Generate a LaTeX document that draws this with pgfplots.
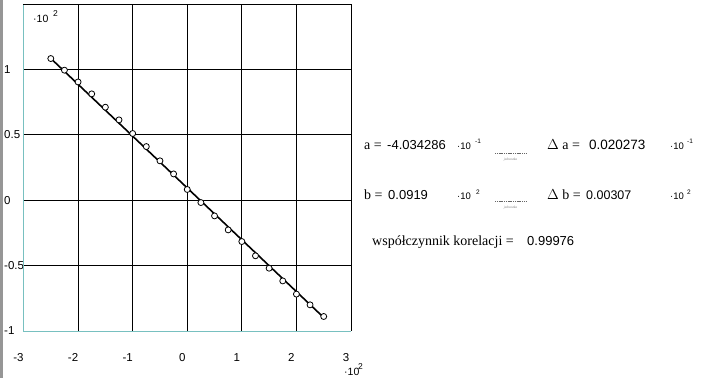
\documentclass[border=0pt]{standalone}
\usepackage{pgfplots}
\pgfplotsset{compat=1.18}
\usepackage{fontspec}
\setmainfont{Liberation Serif}
\newfontfamily\arial{Liberation Sans}
\definecolor{frameteal}{RGB}{120,192,192}
\definecolor{sidebar}{RGB}{150,150,150}
\begin{document}
\begin{tikzpicture}[x=1pt,y=1pt]
\path[use as bounding box] (0,0) rectangle (706,378);
\fill[white] (0,0) rectangle (706,378);
\fill[sidebar] (0,0) rectangle (3,378);
\begin{axis}[
  at={(23.5pt,47pt)}, anchor=south west,
  scale only axis, width=327.5pt, height=327pt,
  xmin=-3, xmax=3, ymin=-1, ymax=1.5,
  xtick={-2,-1,0,1,2}, extra x ticks={-3,3}, extra x tick style={grid=none},
  ytick={-0.5,0,0.5,1}, extra y ticks={-1}, extra y tick style={grid=none},
  grid=major, major grid style={black, line width=0.9pt},
  axis line style={draw=none},
  major tick length=0pt,
  /pgf/number format/assume math mode=true,
  tick label style={font=\arial\fontsize{11.5}{13}\selectfont, inner sep=0pt},
  xticklabel style={anchor=north, yshift=-22pt, xshift=-5pt},
  yticklabel style={anchor=west, xshift=-19.5pt},
  clip=false,
]
\draw[frameteal, line width=0.9pt] (rel axis cs:0,1) -- (rel axis cs:0,0) -- (rel axis cs:1,0);
\draw[black, line width=0.9pt] (rel axis cs:0,1) -- (rel axis cs:1,1) -- (rel axis cs:1,0);
\addplot[black, line width=1.6pt, no marks] coordinates {(-2.5,1.084) (2.52,-0.905)};
\addplot[only marks, mark=*, mark size=3pt, mark options={fill=white, draw=black, line width=0.8pt}] coordinates {
(-2.50,1.083) (-2.25,0.994) (-2.00,0.904) (-1.75,0.813) (-1.50,0.711)
(-1.25,0.614) (-1.00,0.510) (-0.75,0.410) (-0.50,0.301) (-0.25,0.201)
(0.00,0.082) (0.25,-0.018) (0.50,-0.120) (0.75,-0.227) (1.00,-0.316)
(1.25,-0.425) (1.50,-0.520) (1.75,-0.617) (2.00,-0.718) (2.25,-0.800)
(2.50,-0.889)};
\end{axis}
% exponent labels on axes
\node[anchor=base west, inner sep=0pt, font=\arial\fontsize{10.5}{12}\selectfont] at (33,355) {·10};
\node[anchor=base west, inner sep=0pt, font=\arial\fontsize{8.5}{9}\selectfont] at (53,361) {2};
\node[anchor=base west, inner sep=0pt, font=\arial\fontsize{10.5}{12}\selectfont] at (344,3) {·10};
\node[anchor=base west, inner sep=0pt, font=\arial\fontsize{8.5}{9}\selectfont] at (358,9) {2};
% results
\node[anchor=base west, inner sep=0pt, font=\fontsize{14}{16}\selectfont] at (364,229) {a =};
\node[anchor=base west, inner sep=0pt, font=\arial\fontsize{13}{15}\selectfont] at (387,229) {-4.034286};
\node[anchor=base west, inner sep=0pt, font=\arial\fontsize{9.5}{11}\selectfont] at (457,229) {·10};
\node[anchor=base west, inner sep=0pt, font=\arial\fontsize{6.5}{7}\selectfont] at (475,234) {-1};
\draw[gray!80!black, line width=0.5pt, dash pattern=on 1.2pt off 0.6pt] (495,225) -- (526,225);
\node[anchor=base, inner sep=0pt, text=gray, font=\itshape\fontsize{3.5}{4}\selectfont] at (510.5,218) {jednostka};
\node[anchor=base west, inner sep=0pt, font=\fontsize{14}{16}\selectfont] at (547,229) {$\Delta$ a =};
\node[anchor=base west, inner sep=0pt, font=\arial\fontsize{13.5}{15}\selectfont] at (589,229) {0.020273};
\node[anchor=base west, inner sep=0pt, font=\arial\fontsize{9.5}{11}\selectfont] at (670,229) {·10};
\node[anchor=base west, inner sep=0pt, font=\arial\fontsize{6.5}{7}\selectfont] at (687,234) {-1};
\node[anchor=base west, inner sep=0pt, font=\fontsize{14}{16}\selectfont] at (364,179) {b =};
\node[anchor=base west, inner sep=0pt, font=\arial\fontsize{13}{15}\selectfont] at (388,179) {0.0919};
\node[anchor=base west, inner sep=0pt, font=\arial\fontsize{9.5}{11}\selectfont] at (457,179) {·10};
\node[anchor=base west, inner sep=0pt, font=\arial\fontsize{6.5}{7}\selectfont] at (476,184) {2};
\draw[gray!80!black, line width=0.5pt, dash pattern=on 1.2pt off 0.6pt] (495,177) -- (526,177);
\node[anchor=base, inner sep=0pt, text=gray, font=\itshape\fontsize{3.5}{4}\selectfont] at (510.5,170) {jednostka};
\node[anchor=base west, inner sep=0pt, font=\fontsize{14}{16}\selectfont] at (547,179) {$\Delta$ b =};
\node[anchor=base west, inner sep=0pt, font=\arial\fontsize{12.5}{14}\selectfont] at (586,179) {0.00307};
\node[anchor=base west, inner sep=0pt, font=\arial\fontsize{9.5}{11}\selectfont] at (670,179) {·10};
\node[anchor=base west, inner sep=0pt, font=\arial\fontsize{6.5}{7}\selectfont] at (687,184) {2};
\node[anchor=base west, inner sep=0pt, font=\fontsize{14}{16}\selectfont] at (372,133) {współczynnik korelacji =};
\node[anchor=base west, inner sep=0pt, font=\arial\fontsize{13}{15}\selectfont] at (527,133) {0.99976};
\end{tikzpicture}
\end{document}
